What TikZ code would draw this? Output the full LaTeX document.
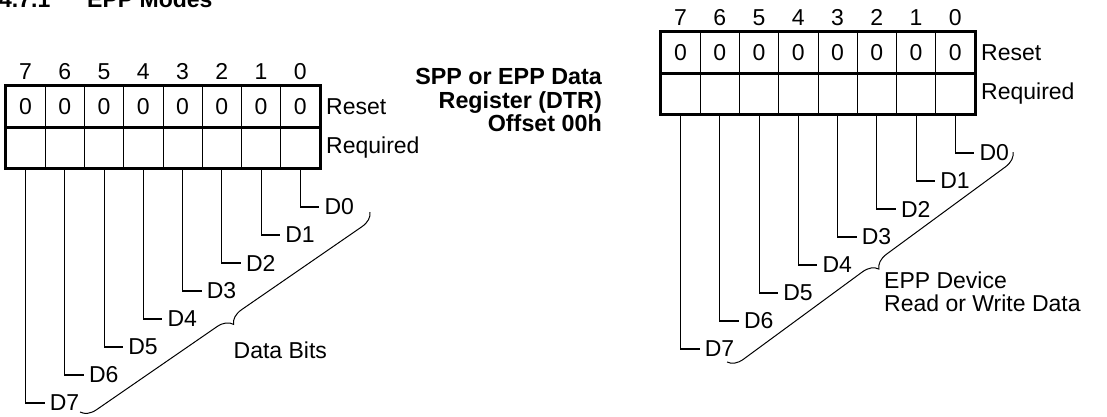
\documentclass[tikz,border=0pt]{standalone}
\usepackage{fontspec}
\setmainfont{Liberation Sans}
\usetikzlibrary{decorations.pathreplacing}
\tikzset{
  txt/.style={font=\fontsize{23bp}{23.5bp}\selectfont},
  bold/.style={font=\fontsize{23.3bp}{23.5bp}\selectfont\bfseries},
  cell/.style={draw, line width=1bp, minimum width=39.25bp, minimum height=41bp, inner sep=0pt, txt},
  frame/.style={line width=3bp},
  bitnum/.style={anchor=base, inner sep=0pt, txt},
  side/.style={anchor=west, inner sep=5.5bp, txt},
  dlabel/.style={anchor=west, inner sep=5bp, txt},
  lead/.style={line width=1.1bp},
  bracestyle/.style={line width=1bp, decorate, decoration={brace, amplitude=15bp, aspect=0.5}}
}
\begin{document}
\begin{tikzpicture}[x=1bp,y=-1bp]
\useasboundingbox (0,0) rectangle (1107,416);
\clip (0,0) rectangle (1107,416);
% title
\node[anchor=base west, inner sep=0pt, font=\fontsize{23bp}{25bp}\selectfont\bfseries] (secnum) at (-1,7) {4.7.1};
\node[anchor=base west, inner sep=0pt, font=\fontsize{23bp}{25bp}\selectfont\bfseries] (title) at (87,7) {EPP Modes};
% registers
\foreach \pre/\ox/\oy in {L/6/86, R/661/32} {
  \foreach \i in {0,...,7} {
    \pgfmathtruncatemacro\bit{7-\i}
    \node[cell] (\pre-r\bit) at ({\ox+39.25*(\i+0.5)},{\oy+20.5}) {0};
    \node[cell] (\pre-q\bit) at ({\ox+39.25*(\i+0.5)},{\oy+61.5}) {};
    \node[bitnum] (\pre-n\bit) at ({\ox+39.25*(\i+0.5)},{\oy-7}) {\bit};
  }
  \draw[frame] (\pre-r7.north west) rectangle (\pre-q0.south east);
  \draw[frame] (\pre-r7.south west) -- (\pre-r0.south east);
  \node[side] (\pre-reset) at (\pre-r0.east) {Reset};
  \node[side] (\pre-req) at (\pre-q0.east) {Required};
  \foreach \k in {0,...,7} {
    \node[dlabel] (\pre-d\k) at ({\ox+39.25*(7-\k+0.5)+19},{\oy+121+28*\k}) {D\k};
    \draw[lead] (\pre-q\k.south) |- (\pre-d\k.west);
  }
}
% left brace and label
\coordinate (Lb1) at (370,212);
\coordinate (Lb2) at (80,412);
\draw[bracestyle] (Lb1) -- (Lb2);
\node[anchor=base west, inner sep=0pt, txt] (databits) at (233.5,358) {Data Bits};
% centre caption
\node[anchor=north east, inner sep=0pt, align=right, bold] (caption) at (602,68.5)
  {SPP or EPP Data\\Register (DTR)\\Offset 00h};
% right brace and label
\coordinate (Rb1) at (1013,152);
\coordinate (Rb2) at (727,362);
\draw[bracestyle] (Rb1) -- (Rb2);
\node[anchor=north west, inner sep=0pt, align=left, txt] (eppdev) at (884,271.5)
  {EPP Device\\Read or Write Data};
\end{tikzpicture}
\end{document}
